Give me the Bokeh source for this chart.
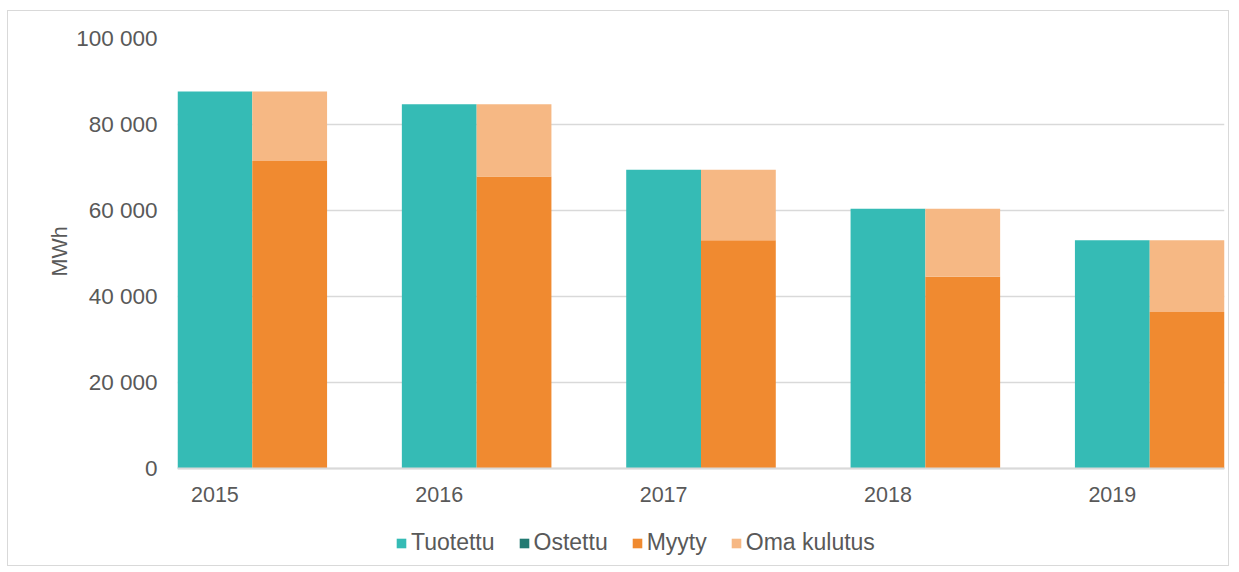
from bokeh.plotting import figure
from bokeh.models import Legend, LegendItem, FixedTicker, ColumnDataSource, Span, Title
from bokeh.core.properties import value
from bokeh.embed import file_html
from bokeh.resources import INLINE

years = ["2015", "2016", "2017", "2018", "2019"]
tuotettu = [87700, 84700, 69500, 60400, 53100]
ostettu = [0, 0, 0, 0, 0]
myyty = [71500, 67900, 53100, 44600, 36400]
oma_kulutus = [16200, 16800, 16400, 15800, 16700]

series_names = ["Tuotettu", "Ostettu", "Myyty", "Oma kulutus"]
colors = ["#35bbb5", "#227a72", "#f08a30", "#f6b884"]

BAR_W = 1 / 3
xs = list(range(len(years)))
xs2 = [x + BAR_W for x in xs]

src = ColumnDataSource(dict(x=xs, x2=xs2, Tuotettu=tuotettu, Ostettu=ostettu,
                            Myyty=myyty, Oma=oma_kulutus, y0=[0] * len(years), label=years))

FONT = "Liberation Sans"
TXT = "#595959"
GRID = "#d9d9d9"

p = figure(width=1222, height=556, output_backend="svg", toolbar_location=None,
           x_range=(-BAR_W / 2, len(years) - 1 + BAR_W * 1.5), y_range=(-23023, 100000),
           min_border_left=169, min_border_top=27, min_border_right=6, min_border_bottom=0)
p.styles = {"border": "1.5px solid #d9d9d9", "margin-left": "7px", "margin-top": "10px"}
p.outline_line_color = None
p.background_fill_color = "white"
p.border_fill_color = "white"

p.xaxis.visible = False
p.xgrid.grid_line_color = None
p.ygrid.grid_line_color = GRID
p.ygrid.grid_line_width = 1.5

r_t = p.vbar(x="x", top="Tuotettu", width=BAR_W, source=src, color=colors[0], line_color=None)
stack = p.vbar_stack(["Ostettu", "Myyty", "Oma"], x="x2", width=BAR_W, source=src,
                     color=colors[1:], line_color=None)

# x axis baseline and category labels
p.add_layout(Span(location=0, dimension="width", line_color=GRID, line_width=2))
p.text(x="x", y="y0", text="label", source=src, text_align="center", text_baseline="top",
       y_offset=18, text_font=value(FONT), text_font_size="21.5px", text_color=TXT)

p.yaxis.ticker = FixedTicker(ticks=[0, 20000, 40000, 60000, 80000, 100000])
p.yaxis.major_label_overrides = {v: (f"{v:,}".replace(",", " ")) for v in range(0, 100001, 20000)}
p.yaxis.axis_line_color = None
p.yaxis.major_tick_line_color = None
p.yaxis.minor_tick_line_color = None
p.yaxis.major_label_standoff = 14
p.yaxis.major_label_text_font = FONT
p.yaxis.major_label_text_font_size = "22.5px"
p.yaxis.major_label_text_color = TXT

ytitle = Title(text="MWh", align="left", offset=291, standoff=3,
               text_font=FONT, text_font_size="21.5px", text_font_style="normal",
               text_color=TXT)
p.add_layout(ytitle, "left")

renderers = [r_t] + list(stack)
legend = Legend(items=[LegendItem(label=n, renderers=[r]) for n, r in zip(series_names, renderers)],
                orientation="horizontal", location=(218, 11))
legend.label_text_font = FONT
legend.label_text_font_size = "23px"
legend.label_text_color = TXT
legend.glyph_width = 12
legend.glyph_height = 12
legend.label_standoff = 4
legend.spacing = 23
legend.padding = 0
legend.margin = 0
legend.border_line_color = None
legend.background_fill_alpha = 0
p.add_layout(legend, "center")

open("out.html", "w").write(file_html(p, INLINE))
